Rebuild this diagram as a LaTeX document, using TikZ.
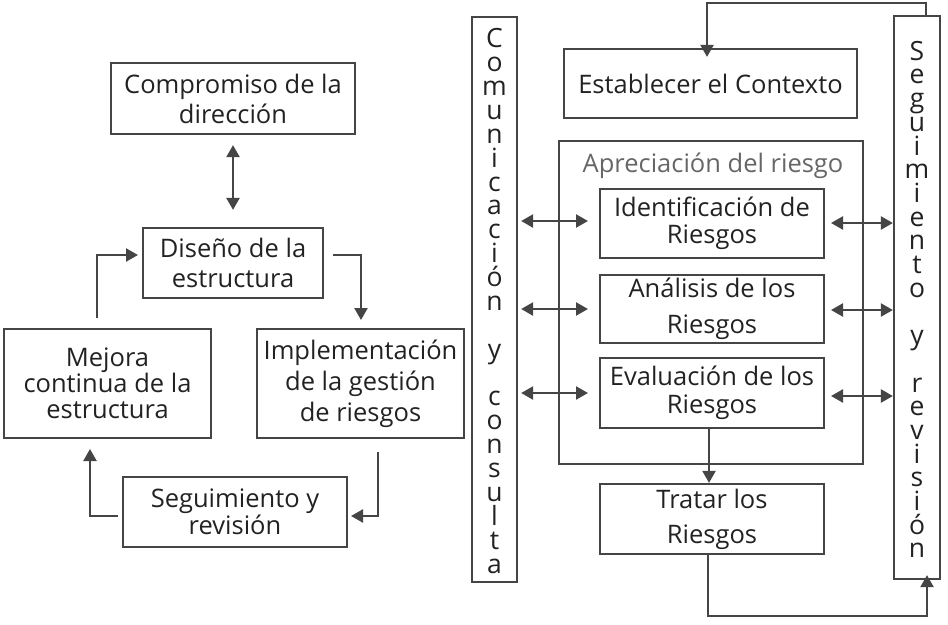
\documentclass[tikz,border=0pt]{standalone}
\usepackage{fontspec}
\setmainfont{Open Sans}
\usetikzlibrary{arrows.meta}
\definecolor{lc}{HTML}{454545}
\definecolor{tc}{HTML}{222222}
\definecolor{gc}{HTML}{666666}
\newcommand\myvfontA{\fontsize{26.5}{23.87}\selectfont\lineskiplimit=-100pt\relax\lineskip=0pt\relax}
\newcommand\myvfontB{\fontsize{26.5}{23.7}\selectfont\lineskiplimit=-100pt\relax\lineskip=0pt\relax}
\begin{document}
\begin{tikzpicture}[x=1pt,y=-1pt,
  box/.style={draw=lc, line width=2.2pt, inner sep=0pt, align=center, text=tc,
    font=\fontsize{25.5}{30}\selectfont},
  vbox/.style={draw=lc, line width=2.2pt, inner sep=0pt},
  vtxt/.style={inner sep=0pt, align=center, text=tc},
  arr/.style={draw=lc, line width=2.2pt, -{Triangle[length=12pt,width=13pt]}},
  darr/.style={draw=lc, line width=2.2pt, {Triangle[length=12pt,width=13pt]}-{Triangle[length=12pt,width=13pt]}}]
\useasboundingbox (0,0) rectangle (948,624);
% left
\node[box, minimum width=244pt, minimum height=71pt] (comp) at (233,98.5) {Compromiso de la\\dirección};
\node[box, minimum width=180pt, minimum height=70pt] (dis) at (233,263) {Diseño de la\\estructura};
\node[box, minimum width=207pt, minimum height=109pt, font=\fontsize{25.5}{26}\selectfont] (mej) at (107.5,383.5) {Mejora\\continua de la\\estructura};
\node[box, minimum width=207pt, minimum height=109pt, font=\fontsize{25.5}{31}\selectfont] (imp) at (360.5,383.5) {Implementación\\de la gestión\\de riesgos};
\node[box, minimum width=224pt, minimum height=70pt, font=\fontsize{25.5}{27}\selectfont] (seg) at (235,512) {Seguimiento y\\revisión};
\draw[darr] ([yshift=-10pt]comp.south) -- ([yshift=17pt]dis.north);
\coordinate (l1) at (97,318);
\coordinate (l2) at (138,255);
\draw[arr] (l1) |- (l2);
\coordinate (r1) at (333,255);
\coordinate (r2) at (361,320);
\draw[arr] (r1) -| (r2);
\coordinate (b1) at (378,452);
\coordinate (b2) at (351,516);
\draw[arr] (b1) |- (b2);
\coordinate (c1) at (118,516);
\coordinate (c2) at (90,449);
\draw[arr] (c1) -| (c2);
% right
\node[vbox, minimum width=45pt, minimum height=565pt] (com) at (494.5,299.5) {};
\node[vtxt, font=\myvfontA] (comt) at (494.5,301) {C\\o\\m\\u\\n\\i\\c\\a\\c\\i\\ó\\n\\\mbox{}\\y\\\mbox{}\\c\\o\\n\\s\\u\\l\\t\\a};
\node[vbox, minimum width=46pt, minimum height=563pt] (sr) at (917,297.5) {};
\node[vtxt, font=\myvfontB] (srt) at (917,299.5) {S\\e\\g\\u\\i\\m\\i\\e\\n\\t\\o\\\mbox{}\\y\\\mbox{}\\r\\e\\v\\i\\s\\i\\ó\\n};
\node[box, minimum width=293pt, minimum height=69pt] (est) at (710.5,83.5) {Establecer el Contexto};
\node[vbox, minimum width=304pt, minimum height=323pt] (apr) at (711,302.5) {};
\node[inner sep=0pt, text=gc, font=\fontsize{25.5}{30}\selectfont] (aprt) at (713,166) {Apreciación del riesgo};
\node[box, minimum width=224pt, minimum height=69pt, font=\fontsize{25.5}{27}\selectfont] (ide) at (712,223.5) {Identificación\ de\\Riesgos};
\node[box, minimum width=224pt, minimum height=68pt, font=\fontsize{25.5}{36}\selectfont] (ana) at (712,309) {Análisis de los\\Riesgos};
\node[box, minimum width=224pt, minimum height=70pt, font=\fontsize{25.5}{28}\selectfont] (eva) at (712,393) {Evaluación de los\\Riesgos};
\node[box, minimum width=224pt, minimum height=70pt, font=\fontsize{25.5}{35}\selectfont] (tra) at (712,519) {Tratar los\\Riesgos};
\draw[arr] (eva.south -| 709,0) -- (tra.north -| 709,0);
\foreach \n/\yl/\yr in {ide/221/223, ana/309/310, eva/393/396}{
  \draw[darr] (com.east |- 0,\yl) ++(3,0) -- (588,\yl);
  \draw[darr] (831,\yr) -- (sr.west |- 0,\yr);
}
\coordinate (t1) at (926,3);
\coordinate (t2) at (707,3);
\draw[arr] (sr.north -| t1) -- (t1) -- (t2) -- ([yshift=-9pt]est.north -| t2);
\coordinate (u1) at (708,616);
\coordinate (u2) at (927,616);
\draw[arr] (tra.south -| u1) -- (u1) -- (u2) -- ([yshift=5pt]sr.south -| u2);
\end{tikzpicture}
\end{document}
